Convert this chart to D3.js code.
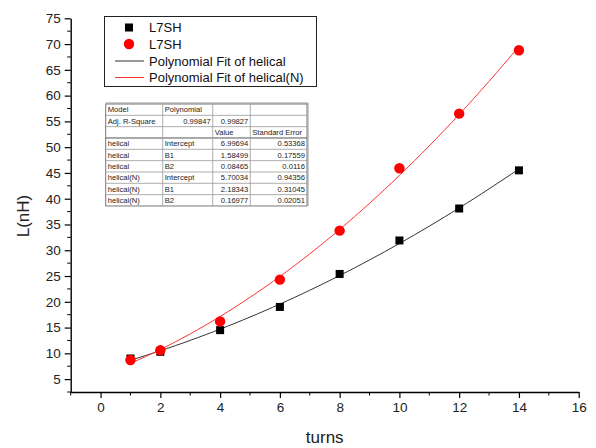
<!DOCTYPE html>
<html>
<head>
<meta charset="utf-8">
<script src="https://cdn.jsdelivr.net/npm/d3@7"></script>
<style>
  body { margin: 0; background: #fff; }
  svg { font-family: "Liberation Sans", Arial, sans-serif; }
</style>
</head>
<body>
<div id="chart"></div>
<script>
// data
var turns = [1, 2, 4, 6, 8, 10, 12, 14];
var helical = [9.0, 10.3, 14.5, 19.0, 25.4, 31.9, 38.1, 45.5];
var helicalN = [8.7, 10.6, 16.2, 24.3, 33.8, 45.9, 56.5, 68.8];

// fit coefficients (Intercept, B1, B2) from the fit table
var fitHelical = [6.99694, 1.58499, 0.08465];
var fitHelicalN = [5.70034, 2.18343, 0.16977];

var xTicks = [0, 2, 4, 6, 8, 10, 12, 14, 16];
var yTicks = [5, 10, 15, 20, 25, 30, 35, 40, 45, 50, 55, 60, 65, 70, 75];

var legendLabels = ['L7SH', 'L7SH', 'Polynomial Fit of helical', 'Polynomial Fit of helical(N)'];

var tableRows = [
	['Model', 'Polynomial', '', ''],
	['Adj. R-Square', '0.99847', '0.99827', ''],
	['', '', 'Value', 'Standard Error'],
	['helical', 'Intercept', '6.99694', '0.53368'],
	['helical', 'B1', '1.58499', '0.17559'],
	['helical', 'B2', '0.08465', '0.0116'],
	['helical(N)', 'Intercept', '5.70034', '0.94356'],
	['helical(N)', 'B1', '2.18343', '0.31045'],
	['helical(N)', 'B2', '0.16977', '0.02051']
];

var W = 596, H = 448;
var svg = d3.select('#chart').append('svg')
	.attr('width', W)
	.attr('height', H);

var x = d3.scaleLinear().domain([-1, 16]).range([70.7, 578.7]);
var y = d3.scaleLinear().domain([2.5, 75]).range([392, 18.3]);

// axes
var xAxis = d3.axisBottom(x).tickValues(xTicks).tickSize(6).tickSizeOuter(0).tickPadding(4);
var gx = svg.append('g')
	.attr('transform', 'translate(0,' + y(2.5) + ')')
	.call(xAxis);
var xMinor = d3.range(-1, 16, 2);
gx.selectAll('.minor').data(xMinor).enter().append('line')
	.attr('class', 'minor')
	.attr('x1', d => x(d)).attr('x2', d => x(d))
	.attr('y1', 0).attr('y2', 3.5)
	.attr('stroke', '#000');

var yAxis = d3.axisLeft(y).tickValues(yTicks).tickSize(6).tickSizeOuter(0).tickPadding(4);
var gy = svg.append('g')
	.attr('transform', 'translate(' + x(-1) + ',0)')
	.call(yAxis);
var yMinor = d3.range(2.5, 75, 5);
gy.selectAll('.minor').data(yMinor).enter().append('line')
	.attr('class', 'minor')
	.attr('y1', d => y(d)).attr('y2', d => y(d))
	.attr('x1', 0).attr('x2', -3.5)
	.attr('stroke', '#000');

[gx, gy].forEach(function(g) {
	g.select('.domain').attr('stroke', '#000').attr('stroke-width', 1.4);
	g.selectAll('.tick line').attr('stroke', '#000').attr('stroke-width', 1.2);
	g.selectAll('.tick text').attr('font-size', 13.5).attr('fill', '#222')
		.attr('font-family', '"Liberation Sans", Arial, sans-serif');
});

// axis titles
svg.append('text')
	.attr('x', (x(-1) + x(16)) / 2)
	.attr('y', 443)
	.attr('text-anchor', 'middle')
	.attr('font-size', 17)
	.attr('fill', '#222')
	.text('turns');

svg.append('text')
	.attr('transform', 'translate(29,216) rotate(-90)')
	.attr('text-anchor', 'middle')
	.attr('font-size', 17)
	.attr('fill', '#222')
	.text('L(nH)');

// fit curves
function poly(c) {
	return function(t) { return c[0] + c[1] * t + c[2] * t * t; };
}
var fitX = d3.range(1, 14.01, 0.25);
var line = d3.line().x(d => x(d[0])).y(d => y(d[1]));

svg.append('path')
	.datum(fitX.map(t => [t, poly(fitHelical)(t)]))
	.attr('d', line)
	.attr('fill', 'none')
	.attr('stroke', '#333')
	.attr('stroke-width', 1);

svg.append('path')
	.datum(fitX.map(t => [t, poly(fitHelicalN)(t)]))
	.attr('d', line)
	.attr('fill', 'none')
	.attr('stroke', '#ff3333')
	.attr('stroke-width', 1);

// points
var sq = 8;
svg.append('g').selectAll('rect')
	.data(turns.map((t, i) => [t, helical[i]]))
	.enter().append('rect')
	.attr('x', d => x(d[0]) - sq / 2)
	.attr('y', d => y(d[1]) - sq / 2)
	.attr('width', sq).attr('height', sq)
	.attr('fill', '#000');

svg.append('g').selectAll('circle')
	.data(turns.map((t, i) => [t, helicalN[i]]))
	.enter().append('circle')
	.attr('cx', d => x(d[0]))
	.attr('cy', d => y(d[1]))
	.attr('r', 5.2)
	.attr('fill', '#ff0000');

// legend
var lg = svg.append('g');
lg.append('rect')
	.attr('x', 104.5).attr('y', 16.5)
	.attr('width', 212).attr('height', 70)
	.attr('fill', '#fff')
	.attr('stroke', '#222')
	.attr('stroke-width', 1);
var rowY = [27.5, 44, 61, 77.5];
legendLabels.forEach(function(lbl, i) {
	var cy = rowY[i];
	if (i === 0) {
		lg.append('rect').attr('x', 129 - 4).attr('y', cy - 4).attr('width', 8).attr('height', 8).attr('fill', '#000');
	} else if (i === 1) {
		lg.append('circle').attr('cx', 129).attr('cy', cy).attr('r', 5.2).attr('fill', '#ff0000');
	} else {
		lg.append('line').attr('x1', 115).attr('x2', 144).attr('y1', cy).attr('y2', cy)
			.attr('stroke', i === 2 ? '#333' : '#ff3333').attr('stroke-width', 1);
	}
	lg.append('text')
		.attr('x', 149)
		.attr('y', cy + 4.8)
		.attr('font-size', 13)
		.attr('fill', '#111')
		.text(lbl);
});

// fit table
var colX = [105.7, 162.7, 212.7, 250.3, 307];
var tTop = 104, rowH = 11.33;
var tg = svg.append('g').attr('font-size', 7.6).attr('fill', '#222');
tg.append('rect')
	.attr('x', colX[0]).attr('y', tTop)
	.attr('width', colX[4] - colX[0]).attr('height', rowH * tableRows.length)
	.attr('fill', '#fff').attr('stroke', '#777').attr('stroke-width', 1);
// outer shadow lines (top/right darker)
tg.append('line').attr('x1', colX[0]).attr('x2', colX[4] + 1).attr('y1', tTop - 1).attr('y2', tTop - 1).attr('stroke', '#999');
tg.append('line').attr('x1', colX[4] + 1).attr('x2', colX[4] + 1).attr('y1', tTop - 1).attr('y2', tTop + rowH * tableRows.length).attr('stroke', '#999');
d3.range(1, tableRows.length).forEach(function(r) {
	tg.append('line')
		.attr('x1', colX[0]).attr('x2', colX[4])
		.attr('y1', tTop + r * rowH).attr('y2', tTop + r * rowH)
		.attr('stroke', r === 3 ? '#555' : '#999').attr('stroke-width', r === 3 ? 1 : 0.8);
});
[1, 2, 3].forEach(function(c) {
	tg.append('line')
		.attr('x1', colX[c]).attr('x2', colX[c])
		.attr('y1', tTop).attr('y2', tTop + rowH * tableRows.length)
		.attr('stroke', '#999').attr('stroke-width', 0.8);
});
tableRows.forEach(function(row, r) {
	row.forEach(function(cell, c) {
		if (!cell) return;
		var numeric = /^[0-9.]+$/.test(cell);
		tg.append('text')
			.attr('x', numeric ? colX[c + 1] - 2 : colX[c] + 2)
			.attr('y', tTop + r * rowH + 8.3)
			.attr('text-anchor', numeric ? 'end' : 'start')
			.text(cell);
	});
});
</script>
</body>
</html>
